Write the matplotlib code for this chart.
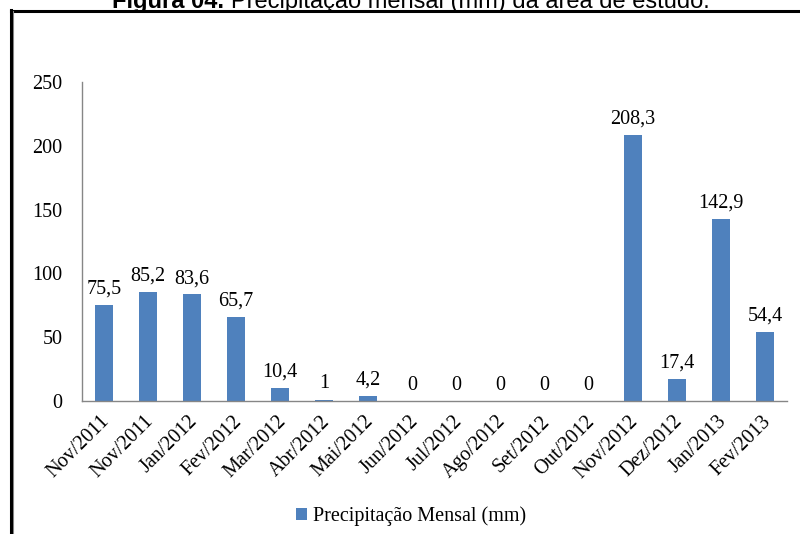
import matplotlib
matplotlib.use("Agg")
import matplotlib.pyplot as plt
from matplotlib.patches import Patch
from matplotlib.lines import Line2D
from matplotlib.transforms import ScaledTranslation

# Monthly rainfall (mm)
months = ["Nov/2011", "Nov/2011", "Jan/2012", "Fev/2012", "Mar/2012", "Abr/2012",
          "Mai/2012", "Jun/2012", "Jul/2012", "Ago/2012", "Set/2012", "Out/2012",
          "Nov/2012", "Dez/2012", "Jan/2013", "Fev/2013"]
rainfall = [75.5, 85.2, 83.6, 65.7, 10.4, 1, 4.2, 0, 0, 0, 0, 0,
            208.3, 17.4, 142.9, 54.4]
y_ticks = [0, 50, 100, 150, 200, 250]
series_name = "Precipitação Mensal (mm)"

BAR_COLOR = "#4F81BD"
AXIS_COLOR = "#868686"
SERIF = "Liberation Serif"
FS = 14.5

fig = plt.figure(figsize=(8.0, 5.34), dpi=100)
fig.patch.set_facecolor("white")

ax = fig.add_axes([82 / 800, 1 - 401 / 534, 705 / 800, 319 / 534])
x = list(range(len(months)))
ax.bar(x, rainfall, width=0.41, color=BAR_COLOR, zorder=2)

ax.set_xlim(-0.5, len(months) - 0.5)
ax.set_ylim(0, 250)
ax.set_yticks(y_ticks)
ax.set_yticklabels([str(t) for t in y_ticks], fontfamily=SERIF, fontsize=FS)
ax.set_xticks(x)
ax.set_xticklabels(months, rotation=45, ha="right", va="top",
                   rotation_mode="anchor", fontfamily=SERIF, fontsize=FS)
ax.tick_params(axis="both", length=0)
ax.tick_params(axis="y", pad=14)
ax.tick_params(axis="x", pad=8)
shift = ScaledTranslation(-4 / 100, 0, fig.dpi_scale_trans)
for lbl in ax.get_xticklabels():
    lbl.set_transform(lbl.get_transform() + shift)

for side in ("top", "right"):
    ax.spines[side].set_visible(False)
for side in ("left", "bottom"):
    ax.spines[side].set_color(AXIS_COLOR)
    ax.spines[side].set_linewidth(1.0)

# Value labels above each bar
for xi, v in zip(x, rainfall):
    txt = f"{v:g}".replace(".", ",")
    ax.annotate(txt, (xi, v), xytext=(0, 4.5), textcoords="offset points",
                ha="center", va="bottom", fontfamily=SERIF, fontsize=FS)

# Legend below the chart
handle = Patch(facecolor=BAR_COLOR, edgecolor="none")
fig.legend([handle], [series_name], loc="center", bbox_to_anchor=(0.514, 0.034),
           frameon=False, prop={"family": SERIF, "size": FS},
           handlelength=0.55, handleheight=0.55, handletextpad=0.3)

# Outer frame (top and left edges)
fig.add_artist(Line2D([10.5 / 800, 1.0], [1 - 11 / 534, 1 - 11 / 534],
                      transform=fig.transFigure, color="black", lw=2.2))
fig.add_artist(Line2D([13 / 800, 13 / 800], [0, 1 - 12 / 534],
                      transform=fig.transFigure, color="#888888", lw=1.5))
fig.add_artist(Line2D([10.5 / 800, 10.5 / 800], [0, 1 - 10 / 534],
                      transform=fig.transFigure, color="black", lw=2.2))

# Caption partly above the top edge
fig.text(224 / 800, 1 - 8 / 534, "Figura 04.", ha="right", va="baseline",
         fontfamily="Liberation Sans", fontweight="bold", fontsize=17)
fig.text(231 / 800, 1 - 8 / 534, "Precipitação mensal (mm) da área de estudo.",
         ha="left", va="baseline", fontfamily="Liberation Sans", fontsize=17)

fig.savefig("out.png", dpi=100, facecolor="white")
